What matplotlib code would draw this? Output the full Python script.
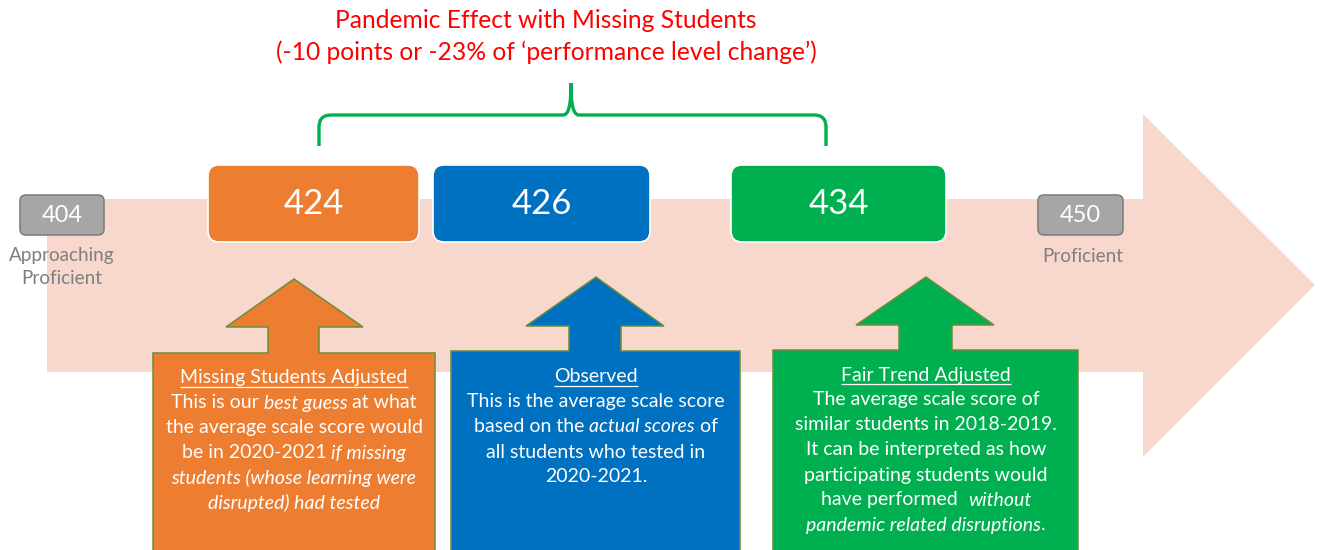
import matplotlib
matplotlib.use("Agg")
import matplotlib.pyplot as plt
from matplotlib.patches import Polygon, FancyBboxPatch, PathPatch
from matplotlib.path import Path

# ---------------- data ----------------
title_lines = ["Pandemic Effect with Missing Students",
               "(-10 points or -23% of \u2018performance level change\u2019)"]
bench_scores = [404, 450]
bench_labels = ["Approaching\nProficient", "Proficient"]
scores = [424, 426, 434]
score_names = ["Missing Students Adjusted", "Observed", "Fair Trend Adjusted"]
score_colors = ["#ED7D31", "#0070C0", "#00B050"]
callout_lines = [
    [[("This is our ", False), ("best guess", True), (" at what", False)],
     [("the average scale score would", False)],
     [("be in 2020-2021 ", False), ("if missing", True)],
     [("students (whose learning were", True)],
     [("disrupted) had tested", True)]],
    [[("This is the average scale score", False)],
     [("based on the ", False), ("actual scores", True), (" of", False)],
     [("all students who tested in", False)],
     [("2020-2021.", False)]],
    [[("The average scale score of", False)],
     [("similar students in 2018-2019.", False)],
     [("It can be interpreted as how", False)],
     [("participating students would", False)],
     [("have performed  ", False), ("without", True)],
     [("pandemic related disruptions", True), (".", False)]],
]

# ---------------- layout ----------------
W, H = 1319, 550
FONT = "Lato"
fig = plt.figure(figsize=(W / 100, H / 100), dpi=100)
ax = fig.add_axes([0, 0, 1, 1])
ax.set_xlim(0, W)
ax.set_ylim(H, 0)
ax.axis("off")

# big pink arrow
arrow = Polygon([(47, 199), (1143, 199), (1143, 114), (1315, 285),
                 (1143, 457), (1143, 372), (47, 372)],
                closed=True, facecolor="#F8D7CD", edgecolor="none", zorder=1)
ax.add_patch(arrow)

# title
for i, t in enumerate(title_lines):
    ax.text(546, 20 + 32 * i, t, color="#FF0000", fontsize=17.7, family=FONT,
            ha="center", va="center", zorder=5)

# bracket
bv = [(319, 146), (319, 127), (319, 115), (331, 115), (563, 115),
      (569, 115), (571, 104), (571, 83), (571, 104), (573, 115), (579, 115),
      (814, 115), (826, 115), (826, 127), (826, 146)]
bc = [Path.MOVETO, Path.LINETO, Path.CURVE3, Path.CURVE3, Path.LINETO,
      Path.CURVE4, Path.CURVE4, Path.CURVE4, Path.CURVE4, Path.CURVE4, Path.CURVE4,
      Path.LINETO, Path.CURVE3, Path.CURVE3, Path.LINETO]
ax.add_patch(PathPatch(Path(bv, bc), facecolor="none", edgecolor="#00B050",
                       lw=2.4, capstyle="butt", zorder=5))

# benchmark grey boxes
bench_box = [(20, 195, 84, 40), (1038, 195, 85, 40)]
bench_label_pos = [(62, 267), (1083, 256)]
for (x, y, w, h), s, lab, (lx, ly) in zip(bench_box, bench_scores, bench_labels,
                                          bench_label_pos):
    ax.add_patch(FancyBboxPatch((x, y), w, h, boxstyle="round,pad=0,rounding_size=6",
                                facecolor="#A6A6A6", edgecolor="#808080", lw=1.2, zorder=3))
    ax.text(x + w / 2, y + h / 2 + 1, str(s), color="white", fontsize=17, family=FONT,
            ha="center", va="center", zorder=4)
    ax.text(lx, ly, lab, color="#7F7F7F", fontsize=13.6, family=FONT,
            ha="center", va="center", linespacing=1.45, zorder=4)

# score boxes
score_box = [(208, 165, 211, 77), (433, 165, 217, 77), (731, 165, 215, 77)]
for (x, y, w, h), s, c in zip(score_box, scores, score_colors):
    ax.add_patch(FancyBboxPatch((x, y), w, h, boxstyle="round,pad=0,rounding_size=11",
                                facecolor=c, edgecolor="white", lw=1.2, zorder=3))
    ax.text(x + w / 2, y + h / 2, str(s), color="white", fontsize=25, family=FONT,
            ha="center", va="center", zorder=4)

# callouts: box x0, x1, top, shaft s0, s1, head h0, h1, head base y, tip x, tip y
callout_geo = [(153, 435, 353, 268, 319, 226, 363, 327, 294, 279),
               (451, 740, 351, 569, 621, 526, 664, 326, 596, 277),
               (773, 1078, 350, 899, 952, 856, 994, 325, 926, 277)]
text_x = [294, 596, 926]
text_y0 = [378, 377, 375]
LS = 25
FS = 14

renderer = fig.canvas.get_renderer()


def width_of(s, italic):
    t1 = ax.text(0, 0, "|" + s + "|", fontsize=FS, family=FONT,
                 style="italic" if italic else "normal")
    t2 = ax.text(0, 0, "||", fontsize=FS, family=FONT,
                 style="italic" if italic else "normal")
    w = t1.get_window_extent(renderer).width - t2.get_window_extent(renderer).width
    t1.remove()
    t2.remove()
    return w


def draw_line(xc, y, segs, underline=False):
    widths = [width_of(s, it) for s, it in segs]
    total = sum(widths)
    x = xc - total / 2
    for (s, it), w in zip(segs, widths):
        ax.text(x, y, s, fontsize=FS, family=FONT, color="white",
                style="italic" if it else "normal", ha="left", va="center", zorder=6)
        x += w
    if underline:
        ax.plot([xc - total / 2, xc + total / 2], [y + 9, y + 9], color="white",
                lw=0.9, zorder=6, solid_capstyle="butt")


for geo, c, name, lines, xc, y0 in zip(callout_geo, score_colors, score_names,
                                       callout_lines, text_x, text_y0):
    x0, x1, top, s0, s1, h0, h1, hb, tx, ty = geo
    poly = Polygon([(x0, 560), (x0, top), (s0, top), (s0, hb), (h0, hb), (tx, ty),
                    (h1, hb), (s1, hb), (s1, top), (x1, top), (x1, 560)],
                   closed=True, facecolor=c, edgecolor="#6B8E3A", lw=1.1, zorder=2)
    ax.add_patch(poly)
    draw_line(xc, y0, [(name, False)], underline=True)
    for i, segs in enumerate(lines):
        draw_line(xc, y0 + LS * (i + 1), segs)

fig.savefig("out.png", dpi=100)
